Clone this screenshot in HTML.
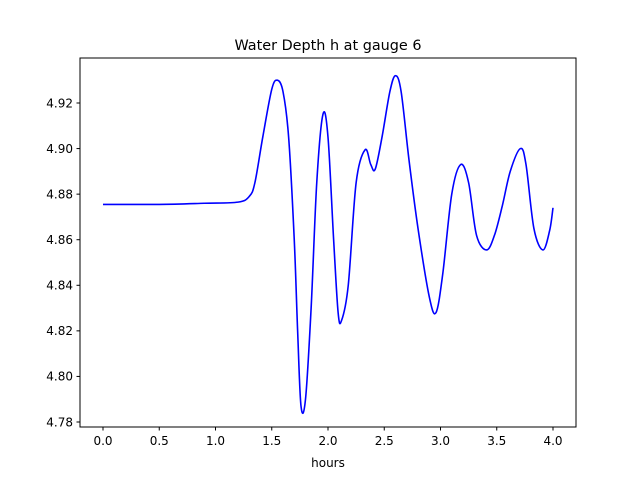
<!DOCTYPE html>
<html><head><meta charset="utf-8"><style>
body{margin:0;background:#fff;}
text{font-family:"DejaVu Sans","Liberation Sans",sans-serif;}
</style></head><body>
<svg id="chart" width="640" height="480" xmlns="http://www.w3.org/2000/svg">
<rect width="640" height="480" fill="#fff"/>
<text x="328" y="50" text-anchor="middle" font-size="14.4">Water Depth h at gauge 6</text>
<g id="ticks"></g>
<path id="line" fill="none" stroke="#0000ff" stroke-width="1.6"/>
<rect x="80" y="58" width="496" height="369" fill="none" stroke="#000" stroke-width="1"/>
<text x="328" y="467" text-anchor="middle" font-size="12">hours</text>
</svg>
<script>
const times=[0,0.5,0.9,1.2,1.3,1.35,1.42,1.5,1.55,1.6,1.65,1.7,1.73,1.76,1.8,1.85,1.9,1.955,2.0,2.05,2.09,2.12,2.18,2.25,2.33,2.38,2.42,2.48,2.55,2.6,2.65,2.72,2.8,2.9,2.96,3.02,3.1,3.18,3.25,3.32,3.41,3.48,3.55,3.62,3.71,3.76,3.83,3.91,3.97,4.0];
const depths=[4.8755,4.8755,4.876,4.8765,4.879,4.885,4.905,4.926,4.930,4.925,4.905,4.86,4.82,4.787,4.79,4.83,4.885,4.915,4.905,4.86,4.828,4.8245,4.84,4.885,4.8995,4.893,4.891,4.905,4.925,4.932,4.925,4.895,4.865,4.835,4.828,4.845,4.88,4.893,4.885,4.862,4.8555,4.862,4.875,4.89,4.900,4.893,4.865,4.8555,4.864,4.874];
const xTicks=[0,0.5,1,1.5,2,2.5,3,3.5,4];
const xTickLabels=["0.0","0.5","1.0","1.5","2.0","2.5","3.0","3.5","4.0"];
const yTicks=[4.78,4.80,4.82,4.84,4.86,4.88,4.90,4.92];
const yTickLabels=["4.78","4.80","4.82","4.84","4.86","4.88","4.90","4.92"];
const xs=t=>103+t*112.5;
const ys=v=>103+(4.92-v)*2278.6;
const NS="http://www.w3.org/2000/svg";
const g=document.getElementById('ticks');
function mk(tag,attrs){const e=document.createElementNS(NS,tag);for(const k in attrs)e.setAttribute(k,attrs[k]);g.appendChild(e);return e;}
xTicks.forEach((t,i)=>{const x=xs(t);
 const l=mk('line',{x1:x,x2:x,y1:427,y2:430.5,stroke:'#000'});
 
 
 const tx=mk('text',{x:x,y:445,'text-anchor':'middle','font-size':'12'});tx.textContent=xTickLabels[i];
 
 
});
yTicks.forEach((v,i)=>{const y=ys(v);
 const l=mk('line',{x1:76.5,x2:80,y1:y,y2:y,stroke:'#000'});
 
 
 const tx=mk('text',{x:73,y:y+4.3,'text-anchor':'end','font-size':'12'});tx.textContent=yTickLabels[i];
 
 
});
const P=times.map((t,i)=>[xs(t),ys(depths[i])]);
let d='M'+P[0][0]+','+P[0][1];
for(let i=0;i<P.length-1;i++){const p0=P[Math.max(0,i-1)],p1=P[i],p2=P[i+1],p3=P[Math.min(P.length-1,i+2)];
 const c1=[p1[0]+(p2[0]-p0[0])/6,p1[1]+(p2[1]-p0[1])/6],c2=[p2[0]-(p3[0]-p1[0])/6,p2[1]-(p3[1]-p1[1])/6];
 d+=` C${c1[0]},${c1[1]} ${c2[0]},${c2[1]} ${p2[0]},${p2[1]}`;}
document.getElementById('line').setAttribute('d',d);
</script>
</body></html>
